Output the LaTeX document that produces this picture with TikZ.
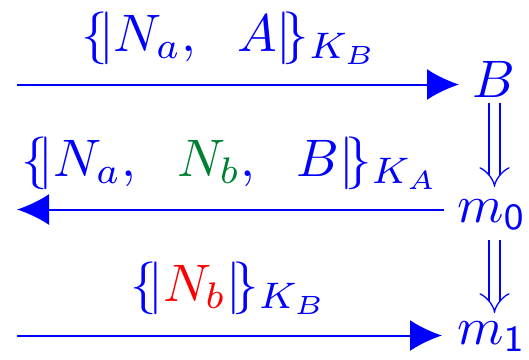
\documentclass[tikz,border=0pt]{standalone}
\usetikzlibrary{arrows.meta}
\definecolor{dgreen}{RGB}{0,128,50}
\newcommand{\lb}{\{\!|}
\newcommand{\rb}{|\!\}}
\newcommand{\sz}[1]{\scalebox{2.64}{#1}}
\begin{document}
\begin{tikzpicture}[x=0.5pt,y=-0.5pt,
  every node/.style={inner sep=0pt, text=blue},
  msg/.style={draw=blue, line width=1pt, -{Latex[length=16pt,width=15.5pt]}},
  refine/.style={draw=blue, line width=0.65pt, double=white, double distance=4.8pt, -{Implies[length=7.5pt,width=16pt]}}]
\useasboundingbox (0,0) rectangle (529,359);
% right column
\node[anchor=base west] (B) at (472,97) {\sz{$B$}};
\node[anchor=base west] (m0) at (457,222) {\sz{$m_{\mathsf{0}}$}};
\node[anchor=base west] (m1) at (457,344) {\sz{$m_{\mathsf{1}}$}};
% labels
\node[anchor=base] (l1) at (230,51) {\sz{$\lb N_a,\ \; A\rb_{K_B}$}};
\node[anchor=base] (l2) at (230.5,176) {\sz{$\lb N_a,\ \; \textcolor{dgreen}{N_b},\ \; B\rb_{K_A}$}};
\node[anchor=base] (l3) at (229.5,301) {\sz{$\lb \textcolor{red}{N_b}\rb_{K_B}$}};
% free ends
\coordinate (s1) at (17,84.5);
\coordinate (e2) at (17,209.5);
\coordinate (s3) at (17,335.5);
% messages
\draw[msg] (s1) -- (s1 -| B.west) [shorten >=6.5pt];
\draw[msg] (e2 -| m0.west) -- (e2) [shorten <=6.5pt];
\draw[msg] (s3) -- (s3 -| m1.west) [shorten >=7.5pt];
% refinements
\coordinate (d1) at (494.5,103);
\coordinate (d2) at (494.5,187);
\coordinate (d3) at (494.5,240);
\coordinate (d4) at (494.5,313);
\draw[refine] (d1) -- (d2);
\draw[refine] (d3) -- (d4);
\end{tikzpicture}
\end{document}
